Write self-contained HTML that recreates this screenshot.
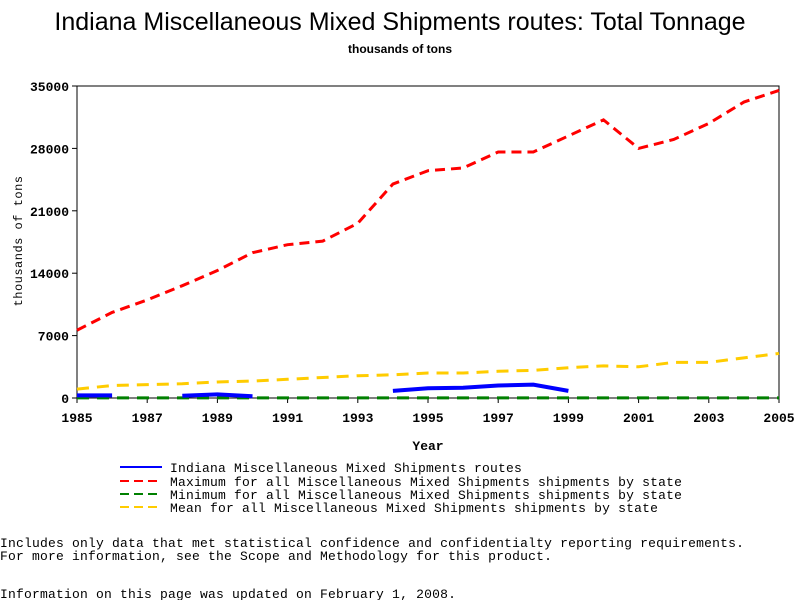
<!DOCTYPE html>
<html><head><meta charset="utf-8"><style>
body{margin:0;background:#fff;width:800px;height:600px;overflow:hidden;font-family:"Liberation Sans",sans-serif}
svg{position:absolute;left:0;top:0}
</style></head><body>
<svg width="800" height="600">
<text x="400" y="30" text-anchor="middle" font-size="25" font-family="Liberation Sans">Indiana Miscellaneous Mixed Shipments routes: Total Tonnage</text>
<text x="400" y="53" text-anchor="middle" font-size="12" font-weight="bold" font-family="Liberation Sans">thousands of tons</text>
<g id="plot"></g>
<text x="428" y="450" text-anchor="middle" font-size="13" font-weight="bold" font-family="Liberation Mono">Year</text>
<text transform="translate(22,241) rotate(-90)" text-anchor="middle" font-size="12" letter-spacing="0.5" font-family="Liberation Mono">thousands of tons</text>
<g font-family="Liberation Mono" font-size="13" letter-spacing="0.2">
<g><line x1="120" y1="467" x2="162" y2="467" stroke="#0000ff" stroke-width="2"/><text x="170" y="472">Indiana Miscellaneous Mixed Shipments routes</text></g>
<g><line x1="120" y1="481" x2="162" y2="481" stroke="#ff0000" stroke-width="2" stroke-dasharray="9,5"/><text x="170" y="486">Maximum for all Miscellaneous Mixed Shipments shipments by state</text></g>
<g><line x1="120" y1="494" x2="162" y2="494" stroke="#008000" stroke-width="2" stroke-dasharray="9,5"/><text x="170" y="499">Minimum for all Miscellaneous Mixed Shipments shipments by state</text></g>
<g><line x1="120" y1="507" x2="162" y2="507" stroke="#ffcc00" stroke-width="2" stroke-dasharray="9,5"/><text x="170" y="512">Mean for all Miscellaneous Mixed Shipments shipments by state</text></g>
</g>
<g font-family="Liberation Mono" font-size="13" letter-spacing="0.2">
<text x="0" y="547">Includes only data that met statistical confidence and confidentialty reporting requirements.</text>
<text x="0" y="560">For more information, see the Scope and Methodology for this product.</text>
<text x="0" y="598">Information on this page was updated on February 1, 2008.</text>
</g>
</svg>
<script>
const years=[1985,1986,1987,1988,1989,1990,1991,1992,1993,1994,1995,1996,1997,1998,1999,2000,2001,2002,2003,2004,2005];
const indiana=[300,300,null,250,400,200,null,null,null,800,1100,1150,1400,1500,800,null,null,null,null,null,null];
const maximum=[7600,9600,11000,12600,14300,16300,17200,17600,19600,24000,25500,25800,27600,27600,29400,31200,28000,29000,30800,33200,34500];
const mean=[1000,1400,1500,1600,1800,1900,2100,2300,2500,2600,2800,2800,3000,3100,3400,3600,3500,4000,4000,4500,5000];
const minimum=[10,10,10,10,10,10,10,10,10,10,10,10,10,10,10,10,10,10,10,10,10];
const yTicks=[0,7000,14000,21000,28000,35000];
const xTicks=[1985,1987,1989,1991,1993,1995,1997,1999,2001,2003,2005];
const X0=77,X1=779,Y0=398,Y1=86;
const sx=v=>X0+(v-1985)/20*(X1-X0);
const sy=v=>Y0-v/35000*(Y0-Y1);
const NS="http://www.w3.org/2000/svg";
const g=document.getElementById('plot');
function mk(t,a){const e=document.createElementNS(NS,t);for(const k in a)e.setAttribute(k,a[k]);g.appendChild(e);return e;}
let r=mk('rect',{x:X0,y:Y1,width:X1-X0,height:Y0-Y1,fill:'none',stroke:'#000'});


yTicks.forEach(v=>{
 const l=mk('line',{x1:X0-5,x2:X0,y1:sy(v),y2:sy(v),stroke:'#000'});
 
 
 const t=mk('text',{x:X0-8,y:sy(v)+5,'text-anchor':'end','font-size':13,'font-weight':'bold','font-family':'Liberation Mono'});
 t.textContent=v;
 
 
});
xTicks.forEach(v=>{
 const l=mk('line',{x1:sx(v),x2:sx(v),y1:Y0,y2:Y0+5,stroke:'#000'});
 
 
 const t=mk('text',{x:sx(v),y:Y0+24,'text-anchor':'middle','font-size':13,'font-weight':'bold','font-family':'Liberation Mono'});
 t.textContent=v;
 
 
});
function series(arr,color,dash,w,name){
 let d='',pen=false;
 arr.forEach((v,i)=>{if(v==null){pen=false;return;}d+=(pen?'L':'M')+sx(years[i])+','+sy(v);pen=true;});
 const p=mk('path',{d:d,fill:'none',stroke:color,'stroke-width':w,'stroke-dasharray':dash});
 
 
}
series(minimum,'#008000','12,8',3,'minimum-line');
series(mean,'#ffcc00','12,8',3,'mean-line');
series(maximum,'#ff0000','10,6',3,'maximum-line');
series(indiana,'#0000ff','none',4,'indiana-line');
</script>
</body></html>
